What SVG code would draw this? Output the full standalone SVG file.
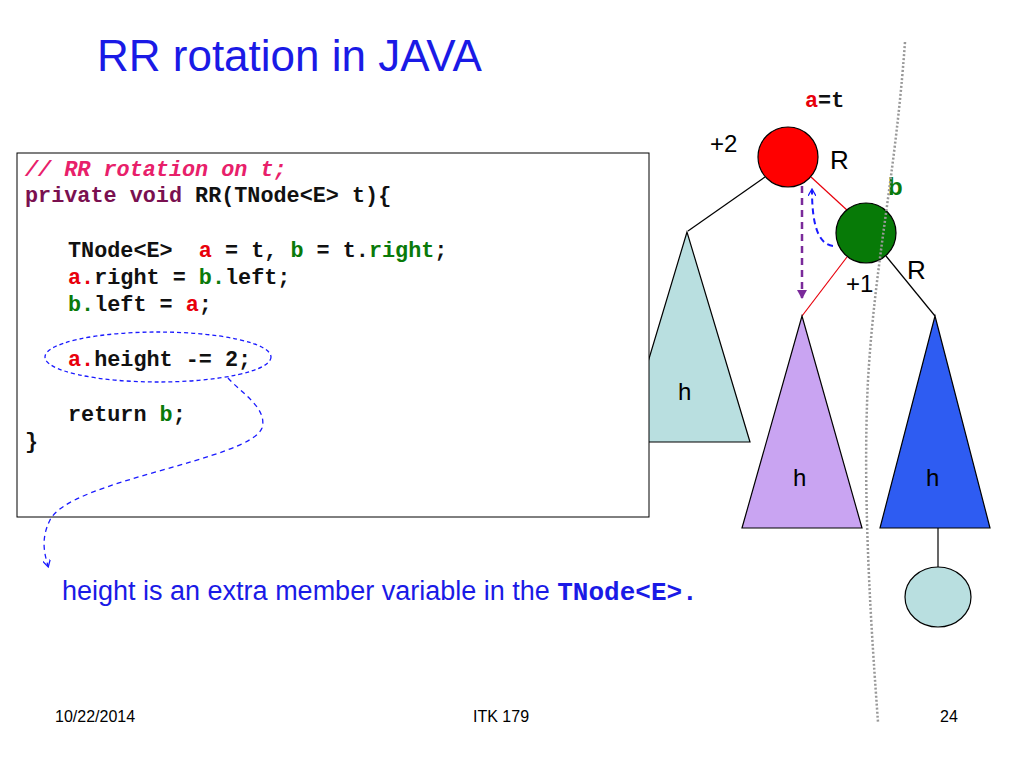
<svg xmlns="http://www.w3.org/2000/svg" width="1024" height="768" viewBox="0 0 1024 768">
<defs>
<style>
.s{font-family:"Liberation Sans",Arial,sans-serif}
.c{font-family:"Liberation Mono","Courier New",monospace;font-weight:bold;font-size:21.8px;fill:#111}
.r{fill:#e8000b}.g{fill:#0a7a0a}.p{fill:#7a1050}
.e{stroke:#000;stroke-width:1.2;fill:none}
</style>
<marker id="ab" markerWidth="8" markerHeight="8" refX="6" refY="4" orient="auto" markerUnits="userSpaceOnUse"><path d="M0,0 L7,4 L0,8" fill="none" stroke="#1a1aff" stroke-width="1.3"/></marker>
<marker id="ap" markerWidth="10" markerHeight="10" refX="8" refY="5" orient="auto" markerUnits="userSpaceOnUse"><path d="M0,0 L9,5 L0,10 Z" fill="#7a2a9a"/></marker>
</defs>
<rect width="1024" height="768" fill="#fff"/>
<text class="s" x="97" y="71" font-size="44" fill="#1a1ae6">RR rotation in JAVA</text>
<g id="connectors">
<line x1="765" y1="177" x2="688" y2="231" class="e"/>
<line x1="811" y1="177" x2="848" y2="211" stroke="#e8000b" stroke-width="1.2"/>
<line x1="847" y1="257" x2="802" y2="316" stroke="#e8000b" stroke-width="1.2"/>
<line x1="886" y1="256" x2="935" y2="316" class="e"/>
<line x1="938" y1="528" x2="938" y2="567" class="e"/>
<line x1="802" y1="186" x2="802" y2="298" stroke="#7a2a9a" stroke-width="2.5" stroke-dasharray="7,5" marker-end="url(#ap)"/>
<path d="M833,246 C815,244 812,215 812,190" fill="none" stroke="#1a1aff" stroke-width="2" stroke-dasharray="6,4" marker-end="url(#ab)"/>
</g>
<g id="tri-left"><polygon points="687,232 624,442 750,442" fill="#b9dfe0" stroke="#000" stroke-width="1.2"/><text class="s" x="678" y="400" font-size="24">h</text></g>
<g id="tri-mid"><polygon points="802,316 742,528 862,528" fill="#c9a4f2" stroke="#000" stroke-width="1.2"/><text class="s" x="793" y="486" font-size="24">h</text></g>
<g id="tri-right"><polygon points="935,316 880,528 990,528" fill="#2e5cf2" stroke="#000" stroke-width="1.2"/><text class="s" x="926" y="486" font-size="24">h</text></g>
<g id="leaf"><ellipse cx="938" cy="597" rx="33" ry="30" fill="#b9dfe0" stroke="#000" stroke-width="1.2"/></g>
<g id="node-a"><circle cx="788" cy="157" r="30" fill="#ff0000" stroke="#000" stroke-width="1.2"/>
<text class="c" x="805" y="107" font-size="20"><tspan class="r">a</tspan>=t</text>
<text class="s" x="710" y="152" font-size="24">+2</text><text class="s" x="830" y="169" font-size="26">R</text></g>
<g id="node-b"><circle cx="866" cy="233" r="30" fill="#077a07" stroke="#000" stroke-width="1.2"/>
<text class="s g" x="888" y="195" font-size="24" font-weight="bold">b</text>
<text class="s" x="846" y="292" font-size="24">+1</text><text class="s" x="907" y="279" font-size="26">R</text></g>
<path d="M905,42 C895,180 875,260 868,380 C862,500 872,640 878,722" fill="none" stroke="#999" stroke-width="2.5" stroke-dasharray="2,2"/>
<g id="code">
<rect x="17" y="153" width="632" height="364" fill="#fff" stroke="#000" stroke-width="1"/>
<text class="c" x="25" y="176" font-size="16" font-style="italic" style="fill:#e8206a">// RR rotation on t;</text>
<text class="c" x="25" y="202"><tspan class="p">private void</tspan> RR(TNode&lt;E&gt; t){</text>
<text class="c" x="68" y="257" xml:space="preserve">TNode&lt;E&gt;  <tspan class="r">a</tspan> = t, <tspan class="g">b</tspan> = t.<tspan class="g">right</tspan>;</text>
<text class="c" x="68" y="284"><tspan class="r">a.</tspan>right = <tspan class="g">b.</tspan>left;</text>
<text class="c" x="68" y="311"><tspan class="g">b.</tspan>left = <tspan class="r">a</tspan>;</text>
<text class="c" x="68" y="366"><tspan class="r">a.</tspan>height -= 2;</text>
<text class="c" x="68" y="421">return <tspan class="g">b</tspan>;</text>
<text class="c" x="25" y="448">}</text>
<ellipse cx="158" cy="357" rx="113" ry="25" fill="none" stroke="#1a1aff" stroke-width="1.3" stroke-dasharray="4,3"/>
</g>
<path d="M228,378 C240,392 268,408 262,428 C250,460 70,480 50,520 C40,540 45,555 48,566" fill="none" stroke="#1a1aff" stroke-width="1.3" stroke-dasharray="5,4" marker-end="url(#ab)"/>
<text class="s" x="62" y="600" font-size="27" fill="#1a1ae6">height is an extra member variable in the <tspan font-family="Liberation Mono,monospace" font-weight="bold" font-size="26">TNode&lt;E&gt;.</tspan></text>
<text class="s" x="55" y="722" font-size="16">10/22/2014</text>
<text class="s" x="473" y="722" font-size="16">ITK 179</text>
<text class="s" x="940" y="722" font-size="16">24</text>
</svg>
